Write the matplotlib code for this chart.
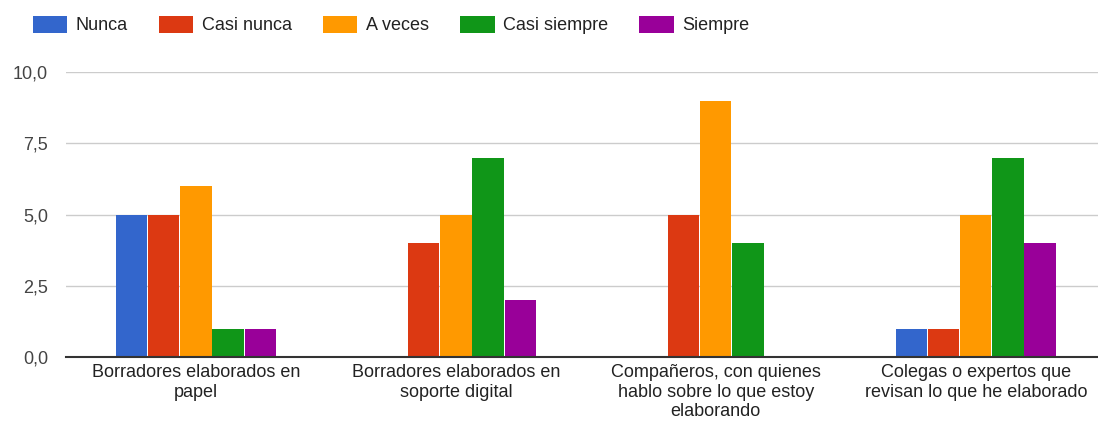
import matplotlib.pyplot as plt
import numpy as np
from matplotlib.patches import Patch
from matplotlib.ticker import FuncFormatter

plt.rcParams['font.family'] = ['Liberation Sans', 'DejaVu Sans']

categories = ["Borradores elaborados en\npapel",
              "Borradores elaborados en\nsoporte digital",
              "Compañeros, con quienes\nhablo sobre lo que estoy\nelaborando",
              "Colegas o expertos que\nrevisan lo que he elaborado"]
series = ["Nunca", "Casi nunca", "A veces", "Casi siempre", "Siempre"]
nunca = [5, 0, 0, 1]
casi_nunca = [5, 4, 5, 1]
a_veces = [6, 5, 9, 5]
casi_siempre = [1, 7, 4, 7]
siempre = [1, 2, 0, 4]
colors = ["#3366cc", "#dc3912", "#ff9900", "#109618", "#990099"]

values = [nunca, casi_nunca, a_veces, casi_siempre, siempre]

fig = plt.figure(figsize=(10.98, 4.25), dpi=100)
ax = fig.add_axes([66 / 1098, 1 - 357 / 425, 1 - 66 / 1098, (357 - 72) / 425])

x = np.arange(len(categories))
w = 0.12
step = 0.1235
for i, (vals, c) in enumerate(zip(values, colors)):
    ax.bar(x + (i - 2) * step, vals, width=w, color=c, zorder=3)

ax.set_xlim(-0.5, 3.47)
ax.set_ylim(0, 10)
ax.set_yticks([0, 2.5, 5, 7.5, 10])
ax.yaxis.set_major_formatter(FuncFormatter(lambda v, p: f"{v:.1f}".replace(".", ",")))
ax.grid(axis='y', color='#cccccc', linewidth=1, zorder=0)
for s in ['top', 'right', 'left']:
    ax.spines[s].set_visible(False)
ax.spines['bottom'].set_color('#333333')
ax.spines['bottom'].set_linewidth(1.5)
ax.spines['bottom'].set_zorder(4)
ax.set_xticks(x)
ax.set_xticklabels(categories)
ax.tick_params(axis='both', length=0, labelsize=13, labelcolor='#222222')
ax.tick_params(axis='y', pad=13, labelcolor='#444444')
ax.tick_params(axis='x', pad=5)

handles = [Patch(facecolor=c, edgecolor='none') for c in colors]
fig.legend(handles, series, loc='center left', bbox_to_anchor=(33 / 1098, 1 - 25 / 425), ncol=5,
           frameon=False, fontsize=13, handlelength=1.9, handleheight=1.1,
           handletextpad=0.45, columnspacing=1.75, borderpad=0, borderaxespad=0,
           labelcolor='#222222')

fig.savefig("out.png", dpi=100)
